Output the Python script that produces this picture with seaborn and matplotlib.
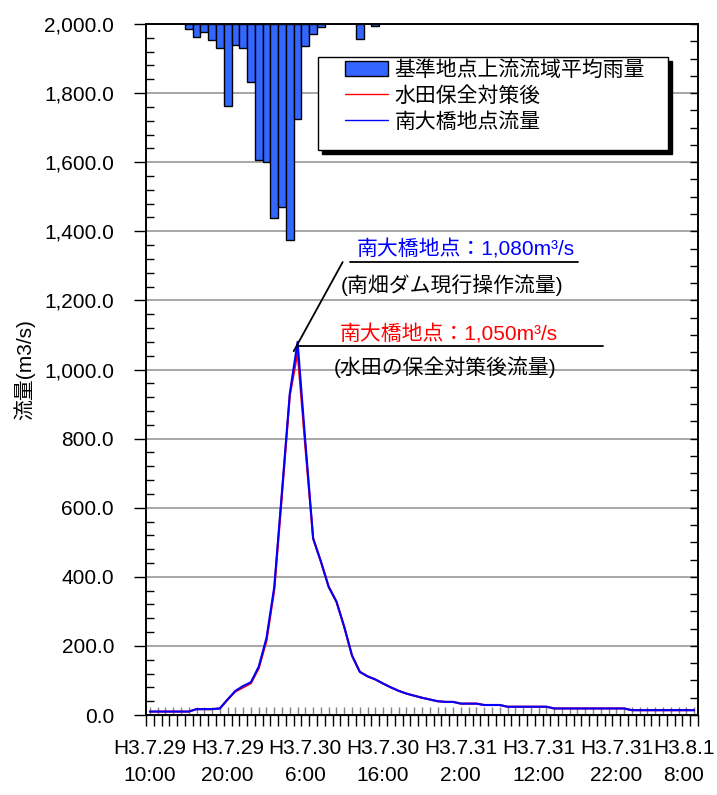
import numpy as np
import pandas as pd
import seaborn as sns
import matplotlib.pyplot as plt
from matplotlib.patches import Patch, Rectangle
from matplotlib.lines import Line2D
from matplotlib.ticker import MultipleLocator, FuncFormatter

# hourly series, hour 0 = H3.7.29 10:00
hours = list(range(71))
flow_now = [10, 10, 10, 10, 10, 10, 17, 17, 17, 19,
            45, 70, 84, 95, 140, 223, 371, 650, 931, 1080,
            790, 511, 444, 371, 328, 255, 172, 125, 112, 103,
            91, 80, 70, 62, 56, 50, 45, 40, 38, 38,
            33, 33, 33, 29, 29, 29, 24, 24, 24, 24,
            24, 24, 19, 19, 19, 19, 19, 19, 19, 19,
            19, 19, 14, 14, 14, 14, 14, 14, 14, 14, 14]
flow_paddy = [10, 10, 10, 10, 10, 10, 17, 17, 17, 19,
              45, 68, 80, 92, 135, 215, 362, 640, 925, 1050,
              775, 511, 444, 371, 328, 255, 172, 125, 112, 103,
              91, 80, 70, 62, 56, 50, 45, 40, 38, 38,
              33, 33, 33, 29, 29, 29, 24, 24, 24, 24,
              24, 24, 19, 19, 19, 19, 19, 19, 19, 19,
              19, 19, 14, 14, 14, 14, 14, 14, 14, 14, 14]
rain_hours = [5, 6, 7, 8, 9, 10, 11, 12, 13, 14, 15, 16, 17, 18, 19, 20, 21, 22, 27, 29]
rain = [0.6, 1.5, 0.9, 1.9, 2.8, 9.5, 2.4, 2.8, 6.7, 15.7,
        16.0, 22.5, 21.2, 25.0, 11.0, 2.5, 1.2, 0.3, 1.7, 0.2]
tick_hours = [0, 10, 20, 30, 40, 50, 60, 70]
tick_labels = ['H3.7.29\n10:00', 'H3.7.29\n20:00', 'H3.7.30\n6:00', 'H3.7.30\n16:00',
               'H3.7.31\n2:00', 'H3.7.31\n12:00', 'H3.7.31\n22:00', 'H3.8.1\n8:00']

sns.set_style('ticks')
plt.rcParams['font.family'] = ['Liberation Sans', 'Noto Sans CJK JP']
plt.rcParams['text.color'] = 'black'
plt.rcParams['axes.labelcolor'] = 'black'
plt.rcParams['xtick.color'] = 'black'
plt.rcParams['ytick.color'] = 'black'

df = pd.DataFrame({'hour': hours, 'now': flow_now, 'paddy': flow_paddy})
rf = pd.DataFrame({'hour': rain_hours, 'rain': rain})

fig = plt.figure(figsize=(7.17, 7.95), dpi=100)
ax = fig.add_axes([0.2036, 0.1006, 0.7699, 0.8692])
ax2 = ax.twinx()

sns.lineplot(data=df, x='hour', y='paddy', color='#ff0000', lw=1.5, ax=ax)
sns.lineplot(data=df, x='hour', y='now', color='#0000ff', lw=1.5, ax=ax)
sns.barplot(data=rf, x='hour', y='rain', native_scale=True, width=1, color='#3366ff',
            saturation=1, edgecolor='black', linewidth=1, errorbar=None, ax=ax2)

ax.set_xlim(-0.5, 70.5)
ax2.set_xlim(-0.5, 70.5)
ax.set_ylim(0, 2000)
ax2.set_ylim(80, 0)

# y axis
ax.yaxis.set_major_locator(MultipleLocator(200))
ax.yaxis.set_minor_locator(MultipleLocator(40))
ax.yaxis.set_major_formatter(FuncFormatter(lambda v, p: f'{v:,.1f}'))
ax.tick_params(axis='y', which='major', direction='out', length=9, width=1, labelsize=15, pad=14)
ax.tick_params(axis='y', which='minor', direction='in', length=6, width=1)
ax.yaxis.grid(True, color='#a0a0a0', lw=1.3)
ax.set_axisbelow(True)
ax.set_ylabel('流量(m3/s)', fontsize=15)
ax.yaxis.set_label_coords(-0.2, 0.5)

ax2.yaxis.set_major_locator(MultipleLocator(2))
ax2.tick_params(axis='y', direction='in', length=6, width=1, labelright=False)
ax2.set_ylabel('')
ax2.set_xlabel('')

# x axis: black ticks between categories, grey ticks at categories
ax.set_xticks([])
ax.set_xlabel('')
sec_out = ax.secondary_xaxis('bottom')
sec_out.set_xticks(np.arange(-0.5, 71, 1))
sec_out.tick_params(direction='out', length=8, width=1, color='black', labelbottom=False)
sec_in = ax.secondary_xaxis('bottom')
sec_in.set_xticks(hours)
sec_in.tick_params(direction='in', length=6, width=1, color='#808080', labelbottom=False)

# two-line date labels under the axis; the last one is kept inside the picture
xlab = ax.get_xaxis_transform()
for h, lab in zip(tick_hours[:-1], tick_labels[:-1]):
    ax.text(h, -0.035, lab, transform=xlab, ha='center', va='top', fontsize=15,
            linespacing=1.55, multialignment='center')
ax.text(72.6, -0.035, tick_labels[-1], transform=xlab, ha='right', va='top', fontsize=15,
        linespacing=1.55, multialignment='center')

for a in (ax, ax2):
    for s in a.spines.values():
        s.set_visible(True)
        s.set_color('black')
        s.set_linewidth(1.2)

# legend with a black drop shadow
ax2.add_patch(Rectangle((0.3116 + 0.0072, 0.8177 - 0.0058), 0.6341, 0.1345, transform=ax2.transAxes,
                        facecolor='black', edgecolor='black', zorder=4))
ax2.add_patch(Rectangle((0.3116, 0.8177), 0.6341, 0.1345, transform=ax2.transAxes,
                        facecolor='white', edgecolor='black', lw=1, zorder=4.5))
handles = [Patch(facecolor='#3366ff', edgecolor='black'),
           Line2D([], [], color='#ff0000', lw=1),
           Line2D([], [], color='#0000ff', lw=1)]
labels = ['基準地点上流流域平均雨量', '水田保全対策後', '南大橋地点流量']
leg = ax2.legend(handles, labels, loc='upper left', bbox_to_anchor=(0.3605, 0.948),
                 frameon=False, fontsize=15, borderpad=0, borderaxespad=0,
                 handlelength=2.07, handletextpad=0.3, labelspacing=0.3)
leg.set_zorder(5)

# peak annotations
ax.plot([18.5, 24.8], [1053, 1311], color='black', lw=1.3, clip_on=False)
ax.plot([25.7, 55.1], [1311, 1311], color='black', lw=1.3)
ax.plot([19.2, 58.3], [1068, 1068], color='black', lw=1.3)
ax.text(40.65, 1346, '南大橋地点：1,080m³/s', color='#0000ff', fontsize=15, ha='center', va='center')
ax.text(38.85, 1245, '(南畑ダム現行操作流量)', color='black', fontsize=15, ha='center', va='center')
ax.text(38.47, 1100, '南大橋地点：1,050m³/s', color='#ff0000', fontsize=15, ha='center', va='center')
ax.text(37.95, 1007, '(水田の保全対策後流量)', color='black', fontsize=15, ha='center', va='center')

fig.savefig('out.png', dpi=100)
